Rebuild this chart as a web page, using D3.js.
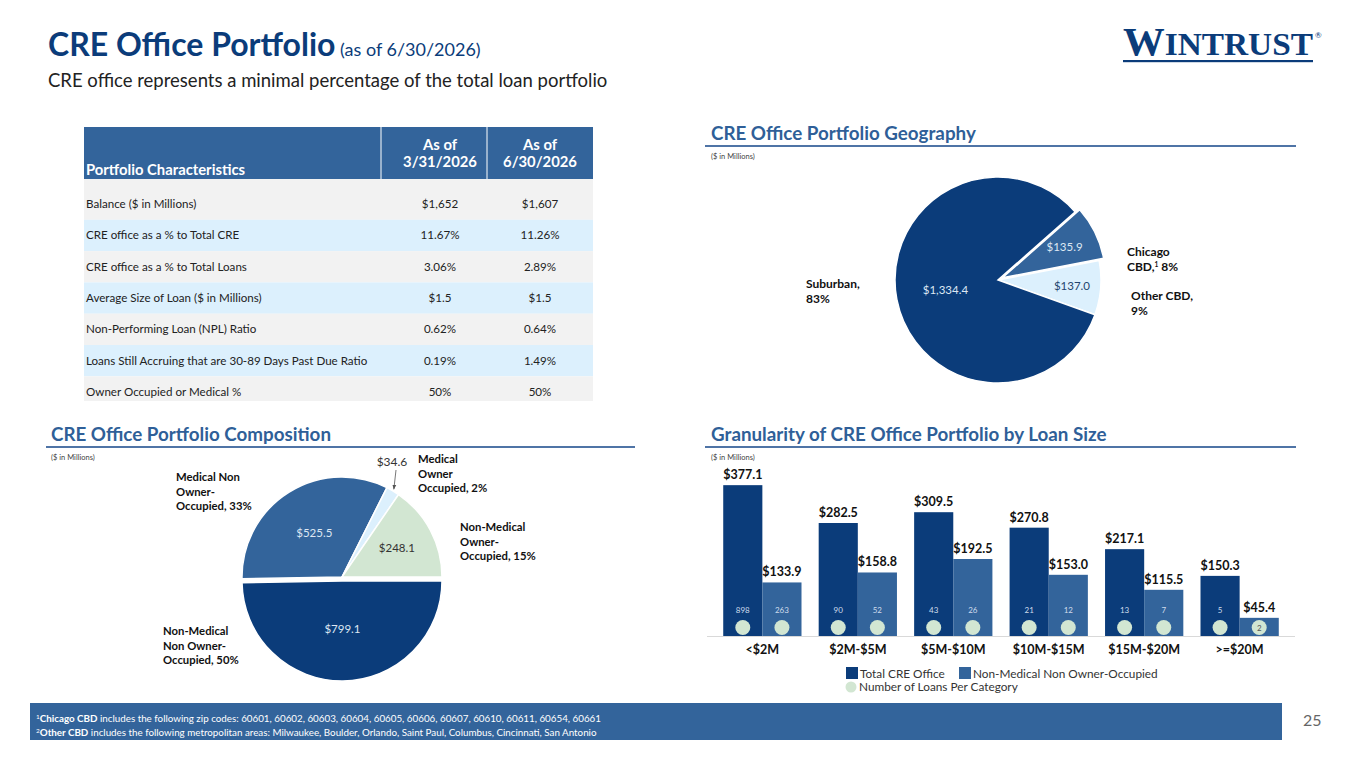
<!DOCTYPE html>
<html lang="en">
<head>
<meta charset="UTF-8">
<title>CRE Office Portfolio</title>
<script src="https://d3js.org/d3.v7.min.js"></script>
<style>
    body { margin: 0; background: #fff; }
    svg { display: block; font-family: Lato, 'Open Sans', sans-serif; }
    .sect { font-weight: 700; font-size: 18.8px; fill: #2f5f98; }
    .unit { font-size: 7.5px; fill: #444; }
    .cell { font-size: 11.6px; fill: #222; }
    .outlbl { font-weight: 700; fill: #111; }
</style>
</head>
<body>
<script>
    const width = 1365;
    const height = 768;

    const navy = '#0b3c7a';
    const midBlue = '#33649b';
    const lightBlue = '#dcf0fd';
    const lightGreen = '#d2e6d2';

    // table
    const tableLabels = ['Balance ($ in Millions)', 'CRE office as a % to Total CRE', 'CRE office as a % to Total Loans',
        'Average Size of Loan ($ in Millions)', 'Non-Performing Loan (NPL) Ratio',
        'Loans Still Accruing that are 30-89 Days Past Due Ratio', 'Owner Occupied or Medical %'];
    const tableQ1 = ['$1,652', '11.67%', '3.06%', '$1.5', '0.62%', '0.19%', '50%'];
    const tableQ2 = ['$1,607', '11.26%', '2.89%', '$1.5', '0.64%', '1.49%', '50%'];

    // geography pie
    const geoNames = ['Chicago CBD', 'Other CBD', 'Suburban'];
    const geoValues = [135.9, 137.0, 1334.4];

    // composition pie
    const compNames = ['Non-Medical Non Owner-Occupied', 'Medical Non Owner-Occupied', 'Medical Owner Occupied', 'Non-Medical Owner-Occupied'];
    const compValues = [799.1, 525.5, 34.6, 248.1];

    // loan size bars
    const sizeCats = ['<$2M', '$2M-$5M', '$5M-$10M', '$10M-$15M', '$15M-$20M', '>=$20M'];
    const totalValues = [377.1, 282.5, 309.5, 270.8, 217.1, 150.3];
    const nmnooValues = [133.9, 158.8, 192.5, 153.0, 115.5, 45.4];
    const totalCounts = [898, 90, 43, 21, 13, 5];
    const nmnooCounts = [263, 52, 26, 12, 7, 2];

    const money = d3.format('$,.1f');

    const svg = d3.select('body').append('svg').attr('width', width).attr('height', height);
    svg.append('rect').attr('width', width).attr('height', height).attr('fill', '#fff');

    // ---- title
    const title = svg.append('text').attr('x', 48).attr('y', 56).attr('fill', navy);
    title.append('tspan').text('CRE Office Portfolio').attr('font-weight', 700).attr('font-size', 32);
    title.append('tspan').text(' (as of 6/30/2026)').attr('font-size', 18);
    svg.append('text').attr('x', 48).attr('y', 87).attr('font-size', 18.5).attr('fill', '#222')
        .text('CRE office represents a minimal percentage of the total loan portfolio');

    // logo
    const logo = svg.append('text').attr('x', 1123).attr('y', 55).attr('fill', navy)
        .style('font-family', "'Liberation Serif', 'DejaVu Serif', serif").attr('font-weight', 700)
        .attr('textLength', 190).attr('lengthAdjust', 'spacingAndGlyphs');
    logo.append('tspan').text('W').attr('font-size', 40);
    logo.append('tspan').text('INTRUST').attr('font-size', 32);
    svg.append('text').attr('x', 1315).attr('y', 38).attr('font-size', 8).attr('fill', navy).text('®');
    svg.append('rect').attr('x', 1123).attr('y', 60).attr('width', 190).attr('height', 2.2).attr('fill', navy);

    // ---- table
    const tx = 84, tRight = 593, c1 = 381, c2 = 487;
    const rowY = d3.scaleLinear().domain([0, 1]).range([188.5, 219.8]);
    svg.append('rect').attr('x', tx).attr('y', 127).attr('width', tRight - tx).attr('height', 52).attr('fill', midBlue);
    [c1, c2].forEach(x => svg.append('line').attr('x1', x).attr('x2', x).attr('y1', 127).attr('y2', 179)
        .attr('stroke', '#fff').attr('stroke-width', 1));
    svg.append('text').attr('x', 86).attr('y', 175).attr('fill', '#fff').attr('font-weight', 700)
        .attr('font-size', 14.8).text('Portfolio Characteristics');
    [['As of', '3/31/2026', 440], ['As of', '6/30/2026', 540]].forEach(h => {
        const t = svg.append('text').attr('fill', '#fff').attr('font-weight', 700).attr('font-size', 14.8)
            .attr('text-anchor', 'middle');
        t.append('tspan').attr('x', h[2]).attr('y', 150).text(h[0]);
        t.append('tspan').attr('x', h[2]).attr('y', 167).text(h[1]);
    });
    const rows = svg.append('g').selectAll('g').data(tableLabels).join('g');
    rows.append('rect')
        .attr('x', tx).attr('width', tRight - tx)
        .attr('y', (d, i) => i === 0 ? 179 : rowY(i))
        .attr('height', (d, i) => i === 0 ? rowY(1) - 179 : (i === tableLabels.length - 1 ? 401 - rowY(i) : rowY(i + 1) - rowY(i)))
        .attr('fill', (d, i) => i % 2 ? lightBlue : '#f2f2f2');
    rows.append('text').attr('class', 'cell').attr('x', 86).attr('y', (d, i) => rowY(i + 0.5) + 4).text(d => d);
    rows.append('text').attr('class', 'cell').attr('x', 440).attr('text-anchor', 'middle')
        .attr('y', (d, i) => rowY(i + 0.5) + 4).text((d, i) => tableQ1[i]);
    rows.append('text').attr('class', 'cell').attr('x', 540).attr('text-anchor', 'middle')
        .attr('y', (d, i) => rowY(i + 0.5) + 4).text((d, i) => tableQ2[i]);

    // ---- section headers
    function section(x, y, x0, x1, label) {
        svg.append('text').attr('class', 'sect').attr('x', x).attr('y', y).text(label);
        svg.append('line').attr('x1', x0).attr('x2', x1).attr('y1', y + 6).attr('y2', y + 6)
            .attr('stroke', '#4f74a6').attr('stroke-width', 2);
        svg.append('text').attr('class', 'unit').attr('x', x).attr('y', y + 19).text('($ in Millions)');
    }
    section(711, 140, 705, 1296, 'CRE Office Portfolio Geography');
    section(51, 441, 46, 635, 'CRE Office Portfolio Composition');
    section(711, 441, 705, 1296, 'Granularity of CRE Office Portfolio by Loan Size');

    function multiLine(x, y, lines, size, gap) {
        const t = svg.append('text').attr('class', 'outlbl').attr('font-size', size);
        lines.forEach((l, i) => {
            const sp = t.append('tspan').attr('x', x).attr('y', y + i * gap);
            if (Array.isArray(l)) {
                sp.text(l[0]);
                sp.append('tspan').attr('baseline-shift', 'super').attr('font-size', size * 0.55).text(l[1]);
                sp.append('tspan').text(l[2]);
            } else sp.text(l);
        });
    }

    // ---- geography pie
    const geoR = 103;
    const geoG = svg.append('g').attr('transform', 'translate(998,280)');
    const geoStart = 48.6 * Math.PI / 180;
    const geoPie = d3.pie().sort(null).startAngle(geoStart).endAngle(geoStart + 2 * Math.PI);
    const geoArc = d3.arc().innerRadius(0).outerRadius(geoR);
    const geoColors = [midBlue, lightBlue, navy];
    const geoTotal = d3.sum(geoValues);
    const geoArcs = geoPie(geoValues);
    geoG.selectAll('path').data(geoArcs).join('path')
        .attr('d', geoArc)
        .attr('transform', (d, i) => {
            if (i !== 0) return null;
            const a = (d.startAngle + d.endAngle) / 2;
            return `translate(${5 * Math.sin(a)},${-5 * Math.cos(a)})`;
        })
        .attr('fill', (d, i) => geoColors[i])
        .attr('stroke', '#fff').attr('stroke-width', 1.5);
    geoG.selectAll('text').data(geoArcs).join('text')
        .attr('transform', d => {
            const rr = geoR * (d.value / geoTotal > 0.25 ? 0.52 : 0.72);
            const a = (d.startAngle + d.endAngle) / 2;
            return `translate(${rr * Math.sin(a)},${-rr * Math.cos(a) + 4})`;
        })
        .attr('text-anchor', 'middle').attr('font-size', 11.5)
        .attr('fill', (d, i) => i === 1 ? '#24456f' : '#dde7f3')
        .text(d => money(d.value));
    multiLine(806, 288, ['Suburban,', '83%'], 12, 15);
    multiLine(1127, 256, ['Chicago', ['CBD,', '1', ' 8%']], 12, 15);
    multiLine(1131, 300, ['Other CBD,', '9%'], 12, 15);

    // ---- composition pie
    const compR = 100;
    const compG = svg.append('g').attr('transform', 'translate(342,577)');
    const compPie = d3.pie().sort(null).startAngle(Math.PI / 2).endAngle(Math.PI / 2 + 2 * Math.PI);
    const compArc = d3.arc().innerRadius(0).outerRadius(compR);
    const compColors = [navy, midBlue, lightBlue, lightGreen];
    const compTotal = d3.sum(compValues);
    const compArcs = compPie(compValues);
    compG.selectAll('path').data(compArcs).join('path')
        .attr('d', compArc)
        .attr('transform', (d, i) => i === 0 ? 'translate(0,4)' : null)
        .attr('fill', (d, i) => compColors[i])
        .attr('stroke', '#fff').attr('stroke-width', 1.5);
    compG.selectAll('text').data(compArcs.filter(d => d.value / compTotal > 0.05)).join('text')
        .attr('transform', d => {
            const rr = compR * (d.value / compTotal > 0.25 ? 0.52 : 0.62);
            const a = (d.startAngle + d.endAngle) / 2;
            return `translate(${rr * Math.sin(a)},${-rr * Math.cos(a) + 4})`;
        })
        .attr('text-anchor', 'middle').attr('font-size', 11.5)
        .attr('fill', (d, i) => i === 2 ? '#333' : '#dde7f3')
        .text(d => money(d.value));
    // small slice call-out
    const small = compArcs[2];
    const sa = (small.startAngle + small.endAngle) / 2;
    svg.append('text').attr('x', 392).attr('y', 466).attr('text-anchor', 'middle').attr('font-size', 12)
        .attr('fill', '#333').text(money(small.value));
    svg.append('defs').append('marker').attr('id', 'arr').attr('viewBox', '0 0 10 10')
        .attr('refX', 9).attr('refY', 5).attr('markerWidth', 6).attr('markerHeight', 6).attr('orient', 'auto')
        .append('path').attr('d', 'M0,1L10,5L0,9Z').attr('fill', '#555');
    svg.append('line').attr('x1', 396).attr('y1', 470)
        .attr('x2', 342 + compR * 1.02 * Math.sin(sa)).attr('y2', 577 - compR * 1.02 * Math.cos(sa))
        .attr('stroke', '#555').attr('stroke-width', 0.8).attr('marker-end', 'url(#arr)');
    multiLine(418, 463, ['Medical', 'Owner', 'Occupied, 2%'], 11.3, 14.5);
    multiLine(176, 481, ['Medical Non', 'Owner-', 'Occupied, 33%'], 11.3, 14.5);
    multiLine(460, 531, ['Non-Medical', 'Owner-', 'Occupied, 15%'], 11.3, 14.5);
    multiLine(163, 635, ['Non-Medical', 'Non Owner-', 'Occupied, 50%'], 11.3, 14.5);

    // ---- loan size bars
    const x = d3.scaleBand().domain(sizeCats).range([707, 1295]).paddingInner(0.18).paddingOuter(0.17);
    const xs = d3.scaleBand().domain(['total', 'nmnoo']).range([0, x.bandwidth()]);
    const y = d3.scaleLinear().domain([0, 400]).range([636, 476]);
    const series = [
        {key: 'total', values: totalValues, counts: totalCounts, color: navy},
        {key: 'nmnoo', values: nmnooValues, counts: nmnooCounts, color: midBlue}
    ];
    const barsG = svg.append('g');
    svg.append('line').attr('x1', 707).attr('x2', 1295).attr('y1', 636.5).attr('y2', 636.5)
        .attr('stroke', '#d9d9d9').attr('stroke-width', 1);
    series.forEach(s => {
        const g = barsG.append('g');
        const bx = (d, i) => x(sizeCats[i]) + xs(s.key);
        g.selectAll('rect').data(s.values).join('rect')
            .attr('x', bx).attr('width', xs.bandwidth())
            .attr('y', d => y(d)).attr('height', d => y(0) - y(d))
            .attr('fill', s.color);
        g.selectAll('text.val').data(s.values).join('text').attr('class', 'val')
            .attr('x', (d, i) => bx(d, i) + xs.bandwidth() / 2).attr('y', d => y(d) - 6)
            .attr('text-anchor', 'middle').attr('font-weight', 700).attr('font-size', 12.5).attr('fill', '#111')
            .text(d => money(d));
        g.selectAll('circle').data(s.values).join('circle')
            .attr('cx', (d, i) => bx(d, i) + xs.bandwidth() / 2).attr('cy', 627.5).attr('r', 7.5)
            .attr('fill', lightGreen);
        g.selectAll('text.cnt').data(s.counts).join('text').attr('class', 'cnt')
            .attr('x', (d, i) => bx(d, i) + xs.bandwidth() / 2)
            .attr('y', (d, i) => y(0) - y(s.values[i]) < 40 ? 630.5 : 613)
            .attr('text-anchor', 'middle').attr('font-size', 8)
            .attr('fill', (d, i) => y(0) - y(s.values[i]) < 40 ? '#555' : '#cfdcec')
            .text(d => d);
    });
    svg.append('g').selectAll('text').data(sizeCats).join('text')
        .attr('x', d => x(d) + x.bandwidth() / 2).attr('y', 654)
        .attr('text-anchor', 'middle').attr('font-weight', 700).attr('font-size', 12.5).attr('fill', '#111')
        .text(d => d);

    // legend
    const lg = svg.append('g').attr('font-size', 11.8).attr('fill', '#333');
    lg.append('rect').attr('x', 846).attr('y', 667).attr('width', 12).attr('height', 12).attr('fill', navy);
    lg.append('text').attr('x', 860).attr('y', 678).text('Total CRE Office');
    lg.append('rect').attr('x', 959).attr('y', 667).attr('width', 12).attr('height', 12).attr('fill', midBlue);
    lg.append('text').attr('x', 973).attr('y', 678).text('Non-Medical Non Owner-Occupied');
    lg.append('circle').attr('cx', 851).attr('cy', 687).attr('r', 5.5).attr('fill', lightGreen);
    lg.append('text').attr('x', 859).attr('y', 691).text('Number of Loans Per Category');

    // ---- footer
    svg.append('rect').attr('x', 30).attr('y', 703).attr('width', 1252).attr('height', 37).attr('fill', midBlue);
    const notes = [
        ['1', 'Chicago CBD', ' includes the following zip codes: 60601, 60602, 60603, 60604, 60605, 60606, 60607, 60610, 60611, 60654, 60661'],
        ['2', 'Other CBD', ' includes the following metropolitan areas: Milwaukee, Boulder, Orlando, Saint Paul, Columbus, Cincinnati, San Antonio']
    ];
    notes.forEach((n, i) => {
        const t = svg.append('text').attr('x', 36).attr('y', 722 + i * 13.5).attr('font-size', 9.8).attr('fill', '#fff');
        t.append('tspan').attr('font-size', 6.5).attr('dy', -3).text(n[0]);
        t.append('tspan').attr('font-weight', 700).attr('dy', 3).text(n[1]);
        t.append('tspan').text(n[2]);
    });
    svg.append('text').attr('x', 1303).attr('y', 726).attr('font-size', 16).attr('fill', '#666').text('25');
</script>
</body>
</html>
